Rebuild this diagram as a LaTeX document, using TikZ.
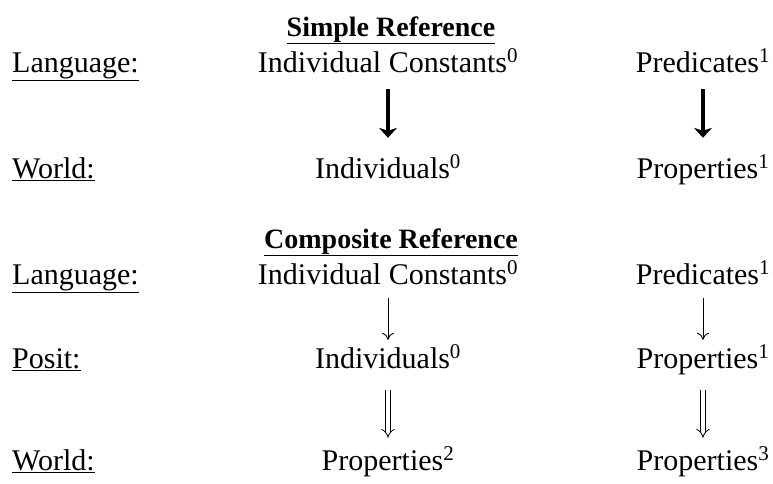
\documentclass[tikz,border=0pt]{standalone}
\usepackage{fontspec}
\setmainfont{Liberation Serif}
\usepackage{tikz}
\usetikzlibrary{arrows.meta}
\tikzset{
  >={Stealth[length=10pt,width=18pt,inset=3pt]},
}
\tikzstyle{every node}=[inner sep=0pt,font=\fontsize{30}{34}\selectfont]
\tikzstyle{row}=[anchor=base,text height=20pt,text depth=6pt]
\tikzstyle{lab}=[anchor=base west]
\tikzstyle{head}=[anchor=base,font=\fontsize{28}{34}\selectfont\bfseries]
\tikzstyle{bold arrow}=[line width=3.6pt,->,shorten <=11pt,shorten >=20pt]
\tikzstyle{thin arrow}=[line width=0.9pt,-{To[length=7pt,width=12pt]},shorten <=8pt,shorten >=8pt]
\tikzstyle{dbl arrow}=[line width=0.8pt,double,double distance=4pt,
  -{Implies},shorten <=16pt,shorten >=12pt]

\begin{document}
\begin{tikzpicture}[x=1pt,y=-1pt]
    \useasboundingbox (0,0) rectangle (773,483);
    % simple reference
    \node[head] (simple) at (391,36) {\underline{Simple Reference}};
    \node[lab] (lang1) at (12,72) {\underline{Language:}};
    \node[lab] (world1) at (12,178) {\underline{World:}};
    \node[row] (ic1) at (388,72) {Individual Constants\textsuperscript{0}};
    \node[row] (pred1) at (703,72) {Predicates\textsuperscript{1}};
    \node[row] (ind1) at (388,178) {Individuals\textsuperscript{0}};
    \node[row] (prop1) at (703,178) {Properties\textsuperscript{1}};
    \draw[bold arrow] (ic1) -- (ind1);
    \draw[bold arrow] (pred1) -- (prop1);
    % composite reference
    \node[head] (composite) at (391,248) {\underline{Composite Reference}};
    \node[lab] (lang2) at (12,284) {\underline{Language:}};
    \node[lab] (posit) at (12,368) {\underline{Posit:}};
    \node[lab] (world2) at (12,470) {\underline{World:}};
    \node[row] (ic2) at (388,284) {Individual Constants\textsuperscript{0}};
    \node[row] (pred2) at (703,284) {Predicates\textsuperscript{1}};
    \node[row] (ind2) at (388,368) {Individuals\textsuperscript{0}};
    \node[row] (prop2) at (703,368) {Properties\textsuperscript{1}};
    \node[row] (propb) at (388,470) {Properties\textsuperscript{2}};
    \node[row] (propc) at (703,470) {Properties\textsuperscript{3}};
    \draw[thin arrow] (ic2) -- (ind2);
    \draw[thin arrow] (pred2) -- (prop2);
    \draw[dbl arrow] (ind2) -- (propb);
    \draw[dbl arrow] (prop2) -- (propc);
  \end{tikzpicture}
\end{document}
